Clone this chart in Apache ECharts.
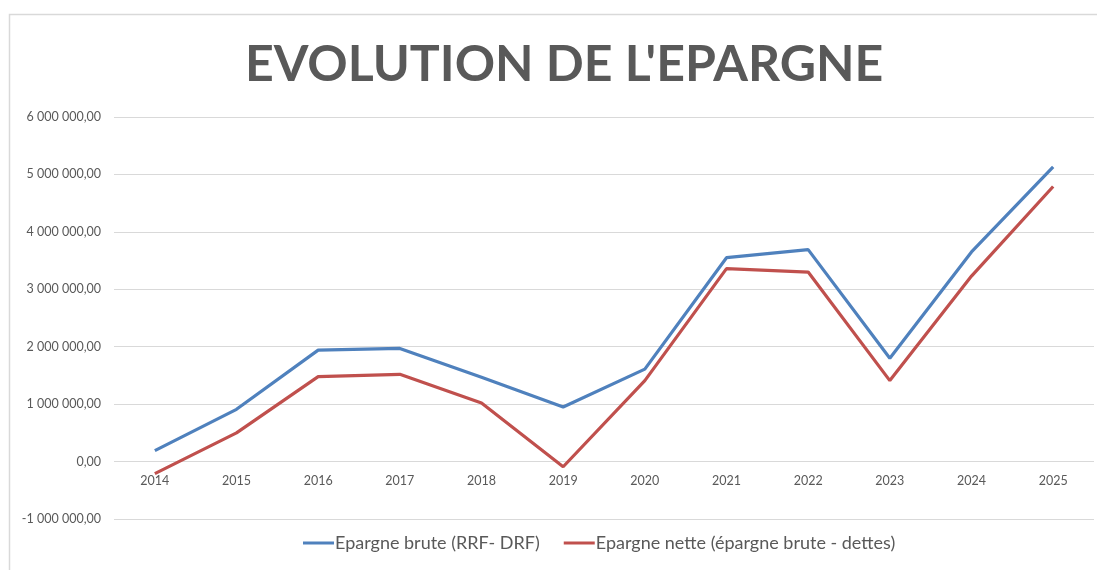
<!DOCTYPE html>
<html>
<head>
<meta charset="utf-8">
<script src="https://cdn.jsdelivr.net/npm/echarts@6/dist/echarts.min.js"></script>
<style>
html,body{margin:0;padding:0;background:#fff;}
#chart{width:1097px;height:570px;}
</style>
</head>
<body>
<div id="chart"></div>
<script>
const years = ['2014','2015','2016','2017','2018','2019','2020','2021','2022','2023','2024','2025'];
const epargneBrute = [190000, 910000, 1940000, 1970000, 1470000, 950000, 1610000, 3550000, 3690000, 1800000, 3650000, 5130000];
const epargneNette = [-210000, 500000, 1480000, 1520000, 1020000, -90000, 1410000, 3360000, 3300000, 1410000, 3230000, 4790000];
const seriesNames = ['Epargne brute (RRF- DRF)', 'Epargne nette (épargne brute - dettes)'];
const titleText = "EVOLUTION DE L'EPARGNE";
const yMin = -1000000, yMax = 6000000, yStep = 1000000;

function fmt(v){
  const neg = v < 0;
  const s = Math.abs(Math.round(v)).toString().replace(/\B(?=(\d{3})+(?!\d))/g, ' ');
  return (neg ? '-' : '') + s + ',00';
}

const gridTop = 117, gridBottom = 51, H = 570;
const plotH = H - gridTop - gridBottom;
const zeroOffset = -plotH * (0 - yMin) / (yMax - yMin);

const chart = echarts.init(document.getElementById('chart'));
chart.setOption({
  backgroundColor: '#fff',
  animation: false,
  textStyle: {fontFamily: 'Lato'},
  graphic: [{
    type: 'rect',
    shape: {x: 9.5, y: 14.5, width: 1200, height: 700},
    style: {fill: 'none', stroke: '#d9d9d9', lineWidth: 1.5},
    silent: true, z: -1
  }],
  title: {
    text: titleText,
    left: 240,
    top: 35,
    textStyle: {fontFamily: 'Lato', fontWeight: 'bold', fontSize: 50, color: '#595959'}
  },
  legend: {
    bottom: 13,
    left: 298,
    itemWidth: 31,
    itemHeight: 3,
    itemGap: 24,
    icon: 'rect',
    textStyle: {fontFamily: 'Lato', fontSize: 18, color: '#595959', padding: [0,0,0,-4]},
    data: seriesNames
  },
  grid: {left: 114, right: 3, top: gridTop, bottom: gridBottom, containLabel: false},
  xAxis: {
    type: 'category',
    data: years,
    boundaryGap: true,
    position: 'bottom',
    offset: zeroOffset,
    axisLine: {show: false, onZero: false},
    axisTick: {show: false},
    axisLabel: {color: '#595959', fontSize: 12.5, fontFamily: 'Lato', margin: 13}
  },
  yAxis: {
    type: 'value',
    min: yMin,
    max: yMax,
    interval: yStep,
    axisLine: {show: false},
    axisTick: {show: false},
    splitLine: {lineStyle: {color: '#d9d9d9', width: 1}},
    axisLabel: {color: '#595959', fontSize: 12.5, fontFamily: 'Lato', margin: 13, formatter: fmt}
  },
  series: [
    {
      name: seriesNames[0], type: 'line', data: epargneBrute,
      symbol: 'none', smooth: false,
      lineStyle: {color: '#4F81BD', width: 3.2},
      itemStyle: {color: '#4F81BD'}
    },
    {
      name: seriesNames[1], type: 'line', data: epargneNette,
      symbol: 'none', smooth: false,
      lineStyle: {color: '#C0504D', width: 3.2},
      itemStyle: {color: '#C0504D'}
    }
  ]
});
</script>
</body>
</html>
